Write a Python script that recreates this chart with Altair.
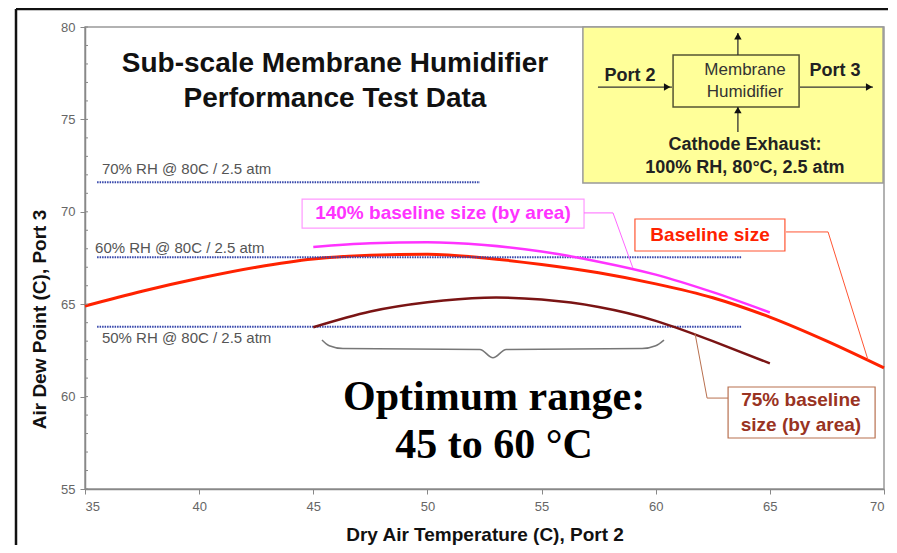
import altair as alt
import pandas as pd

# ---------------- data ----------------
baseline_x = [35, 37.5, 40, 42.5, 45, 47.5, 50, 52.5, 55, 57.5, 60, 62.5, 65, 67.5, 70]
baseline_y = [64.9, 65.7, 66.4, 67.0, 67.45, 67.65, 67.7, 67.5, 67.15, 66.7, 66.1, 65.35, 64.3, 63.0, 61.55]

large_x = [45, 47.5, 50, 52.5, 55, 57.5, 60, 62.5, 65]
large_y = [68.1, 68.3, 68.35, 68.2, 67.85, 67.3, 66.6, 65.65, 64.55]

small_x = [45, 47.5, 50, 52.5, 55, 57.5, 60, 62.5, 65]
small_y = [63.75, 64.6, 65.1, 65.35, 65.25, 64.85, 64.1, 63.0, 61.8]

rh_labels = ["70% RH @ 80C / 2.5 atm", "60% RH @ 80C / 2.5 atm", "50% RH @ 80C / 2.5 atm"]
rh_levels = [71.6, 67.54, 63.78]
rh_x_start = [35.53, 35.53, 35.53]
rh_x_end = [52.3, 63.78, 63.78]
rh_label_x = [35.74, 35.44, 35.74]
rh_label_y = [72.05, 67.77, 62.9]

x_ticks = [35, 40, 45, 50, 55, 60, 65, 70]
y_ticks = [55, 60, 65, 70, 75, 80]
y_minor = list(range(55, 81))

title_lines = ["Sub-scale Membrane Humidifier", "Performance Test Data"]
title_x = [45.95, 45.95]
title_y = [77.56, 75.67]

optimum_lines = ["Optimum range:", "45 to 60 \u00b0C"]
optimum_x = [52.92, 52.92]
optimum_y = [59.27, 56.68]

brace_x = [45.38, 45.7, 46.3, 52.3, 52.87, 53.45, 59.4, 60.0, 60.36]
brace_y = [63.06, 62.75, 62.6, 62.55, 62.1, 62.55, 62.6, 62.75, 63.06]

# callouts
mag_box = dict(x=44.51, x2=56.86, y=70.69, y2=69.12)
mag_text = ("140% baseline size (by area)", 50.68, 69.91)
mag_leader_x = [56.86, 58.13, 59.0]
mag_leader_y = [69.94, 69.94, 66.96]

red_box = dict(x=59.09, x2=65.66, y=69.61, y2=67.88)
red_text = ("Baseline size", 62.38, 68.74)
red_leader_x = [65.71, 67.55, 69.3]
red_leader_y = [68.91, 68.91, 61.98]

brn_box = dict(x=63.17, x2=69.61, y=60.52, y2=57.76)
brn_lines = ["75% baseline", "size (by area)"]
brn_text_x = [66.36, 66.36]
brn_text_y = [59.49, 58.14]
brn_leader_x = [63.17, 62.25, 61.72]
brn_leader_y = [59.92, 59.92, 63.44]

# inset diagram
inset_box = dict(x=56.81, x2=69.96, y=80.0, y2=71.56)
inner_box = dict(x=60.76, x2=66.28, y=78.48, y2=75.67)
inset_bold = ["Port 2", "Port 3", "Cathode Exhaust:", "100% RH, 80\u00b0C, 2.5 atm"]
inset_bold_x = [58.87, 67.85, 63.91, 63.91]
inset_bold_y = [77.35, 77.62, 73.61, 72.37]
inset_reg = ["Membrane", "Humidifier"]
inset_reg_x = [63.91, 63.91]
inset_reg_y = [77.67, 76.48]
arrow_h = [(57.47, 60.71, 76.75), (66.32, 69.52, 76.75)]
arrow_v = [(63.6, 78.48, 79.68), (63.6, 74.32, 75.67)]
head_right_x = [60.5, 69.35]
head_right_y = [76.75, 76.75]
head_up_x = [63.6, 63.6]
head_up_y = [79.5, 75.5]

# ---------------- chart ----------------
SANS = "Liberation Sans"
SERIF = "Liberation Serif"
xs = alt.Scale(domain=[35, 70], nice=False, zero=False)
ys = alt.Scale(domain=[55, 80], nice=False, zero=False)

AX = alt.Axis(
    values=x_ticks, title="Dry Air Temperature (C), Port 2", grid=False,
    labelColor="#666666", labelFont=SANS, labelFontSize=13, labelPadding=6,
    tickSize=5, tickColor="#888888", domainColor="#888888", domainWidth=1.5,
    titleFont=SANS, titleFontSize=19, titleFontWeight="bold", titleColor="#111111",
    titleY=51, titleBaseline="alphabetic")
AY = alt.Axis(
    values=y_ticks, title="Air Dew Point (C), Port 3", grid=False,
    labelColor="#666666", labelFont=SANS, labelFontSize=13, labelPadding=5,
    tickSize=5, tickColor="#888888", domainColor="#888888", domainWidth=1.5,
    titleFont=SANS, titleFontSize=19, titleFontWeight="bold", titleColor="#111111",
    titleX=-40, titleY=292, titleBaseline="alphabetic")


def X(f="x"):
    return alt.X(f"{f}:Q", scale=xs, axis=AX)


def Y(f="y"):
    return alt.Y(f"{f}:Q", scale=ys, axis=AY)


def rect(box, **kw):
    return alt.Chart(pd.DataFrame([box])).mark_rect(**kw).encode(
        x=X("x"), x2="x2:Q", y=Y("y"), y2="y2:Q")


def texts(labels, xv, yv, **kw):
    df = pd.DataFrame({"t": labels, "x": xv, "y": yv})
    return alt.Chart(df).mark_text(**kw).encode(x=X(), y=Y(), text="t:N")


def polyline(xv, yv, **kw):
    df = pd.DataFrame({"x": xv, "y": yv, "o": list(range(len(xv)))})
    return alt.Chart(df).mark_line(**kw).encode(x=X(), y=Y(), order="o:Q")


baseline = alt.Chart(pd.DataFrame({"x": baseline_x, "y": baseline_y})).mark_line(
    color="#FF2200", strokeWidth=3, interpolate="monotone").encode(x=X(), y=Y())
large = alt.Chart(pd.DataFrame({"x": large_x, "y": large_y})).mark_line(
    color="#FF33FF", strokeWidth=2.5, interpolate="monotone").encode(x=X(), y=Y())
small = alt.Chart(pd.DataFrame({"x": small_x, "y": small_y})).mark_line(
    color="#7A1414", strokeWidth=2.5, interpolate="natural").encode(x=X(), y=Y())

minor = alt.Chart(pd.DataFrame({"y": y_minor})).mark_rule(color="#888888").encode(
    y=Y(), x=alt.value(0), x2=alt.value(3))

rh_df = pd.DataFrame({"x": rh_x_start, "x2": rh_x_end, "y": rh_levels})
rh_lines = alt.Chart(rh_df).mark_rule(color="#3344AA", strokeWidth=2, strokeDash=[1.5, 1]).encode(
    x=X("x"), x2="x2:Q", y=Y("y"))
rh_text = texts(rh_labels, rh_label_x, rh_label_y, align="left", baseline="alphabetic",
                font=SANS, fontSize=15, color="#555555")

title = texts(title_lines, title_x, title_y, align="center", baseline="alphabetic",
              font=SANS, fontSize=28, fontWeight="bold", color="#111111")
optimum = texts(optimum_lines, optimum_x, optimum_y, align="center", baseline="alphabetic",
                font=SERIF, fontSize=42, fontWeight="bold", color="#000000")
brace = polyline(brace_x, brace_y, color="#777777", strokeWidth=1.5, interpolate="monotone")

mag = (rect(mag_box, fill="white", stroke="#FF99FF", strokeWidth=1.2)
       + polyline(mag_leader_x, mag_leader_y, color="#FF66FF", strokeWidth=1)
       + texts([mag_text[0]], [mag_text[1]], [mag_text[2]], align="center", baseline="middle",
               font=SANS, fontSize=19, fontWeight="bold", color="#FF33FF"))
red = (rect(red_box, fill="white", stroke="#FF5533", strokeWidth=1.2)
       + polyline(red_leader_x, red_leader_y, color="#FF5533", strokeWidth=1)
       + texts([red_text[0]], [red_text[1]], [red_text[2]], align="center", baseline="middle",
               font=SANS, fontSize=19, fontWeight="bold", color="#FF2200"))
brn = (rect(brn_box, fill="white", stroke="#B8704F", strokeWidth=1.2)
       + polyline(brn_leader_x, brn_leader_y, color="#B8704F", strokeWidth=1)
       + texts(brn_lines, brn_text_x, brn_text_y, align="center", baseline="alphabetic",
               font=SANS, fontSize=19, fontWeight="bold", color="#993322"))

inset = rect(inset_box, fill="#FFFF99", stroke="#999999", strokeWidth=1.5)
inner = rect(inner_box, fill="#FFFF99", stroke="#555533", strokeWidth=1.5)
ah_df = pd.DataFrame({"x": [a[0] for a in arrow_h], "x2": [a[1] for a in arrow_h],
                      "y": [a[2] for a in arrow_h]})
arrows_h = alt.Chart(ah_df).mark_rule(color="#333333", strokeWidth=1.3).encode(
    x=X("x"), x2="x2:Q", y=Y("y"))
av_df = pd.DataFrame({"x": [a[0] for a in arrow_v], "y": [a[1] for a in arrow_v],
                      "y2": [a[2] for a in arrow_v]})
arrows_v = alt.Chart(av_df).mark_rule(color="#333333", strokeWidth=1.3).encode(
    x=X("x"), y=Y("y"), y2="y2:Q")
heads_r = alt.Chart(pd.DataFrame({"x": head_right_x, "y": head_right_y})).mark_point(
    shape="triangle-right", filled=True, size=55, color="#111111", opacity=1).encode(x=X(), y=Y())
heads_u = alt.Chart(pd.DataFrame({"x": head_up_x, "y": head_up_y})).mark_point(
    shape="triangle-up", filled=True, size=55, color="#111111", opacity=1).encode(x=X(), y=Y())
inset_t1 = texts(inset_bold, inset_bold_x, inset_bold_y, align="center", baseline="middle",
                 font=SANS, fontSize=18, fontWeight="bold", color="#222222")
inset_t2 = texts(inset_reg, inset_reg_x, inset_reg_y, align="center", baseline="middle",
                 font=SANS, fontSize=17, color="#333333")

frame_top = alt.Chart(pd.DataFrame({"a": [0]})).mark_rule(color="#111111", strokeWidth=2.5).encode(
    x=alt.value(-69), x2=alt.value(803), y=alt.value(-18))
frame_left = alt.Chart(pd.DataFrame({"a": [0]})).mark_rule(color="#111111", strokeWidth=2.5).encode(
    x=alt.value(-69), y=alt.value(-18), y2=alt.value(520))

chart = alt.layer(
    baseline, inset, inner, arrows_h, arrows_v, heads_r, heads_u, inset_t1, inset_t2,
    minor, rh_lines, rh_text, large, small, brace, mag, red, brn, title, optimum,
    frame_top, frame_left,
).properties(
    width=799, height=462,
    autosize=alt.AutoSizeParams(type="none"),
    padding={"left": 77, "top": 19, "right": 4, "bottom": 56},
    background="white",
).configure_view(stroke="#999999", strokeWidth=1.5)

chart.save("out.html", embed_options={"renderer": "svg", "actions": False})
